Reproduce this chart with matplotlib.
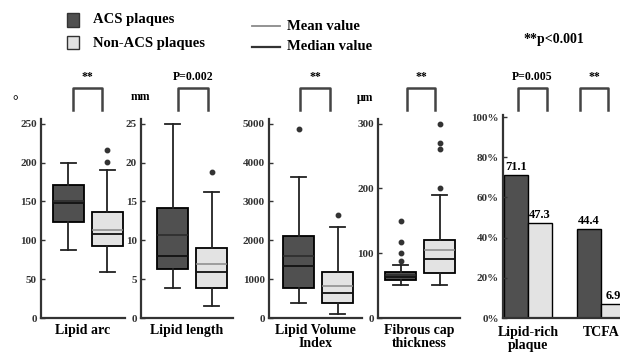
import matplotlib
matplotlib.use("Agg")
import matplotlib.pyplot as plt
from matplotlib.lines import Line2D
from matplotlib.patches import Rectangle

plt.rcParams['font.family'] = ['Liberation Serif', 'DejaVu Serif']
plt.rcParams['font.weight'] = 'bold'
plt.rcParams['axes.labelweight'] = 'bold'

W, H = 620, 357

# box plot data, each list is [ACS, Non-ACS]
arc_q1 = [124, 93]
arc_med = [148, 108]
arc_q3 = [171, 136]
arc_mean = [150, 113]
arc_lo = [87, 59]
arc_hi = [199, 191]
arc_fliers = [[], [201, 216]]

len_q1 = [6.3, 3.9]
len_med = [8.0, 5.9]
len_q3 = [14.1, 9.0]
len_mean = [10.7, 6.9]
len_lo = [3.9, 1.6]
len_hi = [24.9, 16.2]
len_fliers = [[], [18.8]]

lvi_q1 = [782, 378]
lvi_med = [1328, 655]
lvi_q3 = [2109, 1185]
lvi_mean = [1597, 824]
lvi_lo = [378, 92]
lvi_hi = [3639, 2353]
lvi_fliers = [[4857], [2647]]

fct_q1 = [59, 70]
fct_med = [63, 91]
fct_q3 = [71, 121]
fct_mean = [66, 105]
fct_lo = [51, 51]
fct_hi = [81, 190]
fct_fliers = [[88, 100, 117, 150], [200, 260, 270, 300]]

# bar data (%)
bar_cats = ['Lipid-rich\nplaque', 'TCFA']
bar_acs = [71.1, 44.4]
bar_non = [47.3, 6.9]

dark = '#505050'
light = '#e3e3e3'


def fx(px):
    return px / W


def fy(py):
    return 1 - py / H


fig = plt.figure(figsize=(6.2, 3.57), dpi=100)

panels = [
    # (q1, med, q3, mean, lo, hi, fliers, xlabel, ylim, yticks, left, right, xleft)
    (arc_q1, arc_med, arc_q3, arc_mean, arc_lo, arc_hi, arc_fliers, 'Lipid arc',
     (0, 256), range(0, 251, 50), 41, 125, 0.30),
    (len_q1, len_med, len_q3, len_mean, len_lo, len_hi, len_fliers, 'Lipid length',
     (0, 25.6), range(0, 26, 5), 141, 233, 0.19),
    (lvi_q1, lvi_med, lvi_q3, lvi_mean, lvi_lo, lvi_hi, lvi_fliers, 'Lipid Volume\nIndex',
     (0, 5120), range(0, 5001, 1000), 269, 362, 0.24),
    (fct_q1, fct_med, fct_q3, fct_mean, fct_lo, fct_hi, fct_fliers, 'Fibrous cap\nthickness',
     (0, 307), range(0, 301, 100), 378, 460, 0.42),
]

for q1, med, q3, mean, lo, hi, fl, xlab, ylim, yt, left, right, xl in panels:
    ax = fig.add_axes([fx(left), fy(318), (right - left) / W, (318 - 119) / H])
    for i in range(2):
        st = [dict(q1=q1[i], med=med[i], q3=q3[i], mean=mean[i],
                   whislo=lo[i], whishi=hi[i], fliers=fl[i])]
        ax.bxp(st, positions=[i + 1], widths=0.78, patch_artist=True,
               showmeans=True, meanline=True, manage_ticks=False,
               boxprops=dict(facecolor=dark if i == 0 else light,
                             edgecolor='black', linewidth=1.3),
               medianprops=dict(color='#111111', linewidth=1.3),
               meanprops=dict(color='#2a2a2a' if i == 0 else '#8a8a8a',
                              linestyle='-', linewidth=1.1),
               whiskerprops=dict(color='#222222', linewidth=1.3),
               capprops=dict(color='#222222', linewidth=1.3),
               flierprops=dict(marker='o', markersize=3.2, markerfacecolor='#333333',
                               markeredgecolor='#333333'))
    ax.set_xlim(xl, xl + (right - left) / 39)
    ax.set_ylim(*ylim)
    ax.set_yticks(list(yt))
    ax.set_xticks([])
    ax.set_xlabel(xlab, fontsize=10, labelpad=4, linespacing=1.0)
    for s in ['top', 'right']:
        ax.spines[s].set_visible(False)
    for s in ['left', 'bottom']:
        ax.spines[s].set_linewidth(1.6)
        ax.spines[s].set_color('#333333')
    ax.tick_params(axis='y', direction='in', length=3, width=1, labelsize=8, pad=3,
                   colors='#333333')

# bar panel
ax5 = fig.add_axes([fx(503), fy(318), (W - 503) / W, (318 - 115) / H])
xs = list(range(len(bar_cats)))
bw = 0.33
b1 = ax5.bar([x - bw / 2 for x in xs], bar_acs, width=bw, color=dark,
             edgecolor='black', linewidth=1)
b2 = ax5.bar([x + bw / 2 for x in xs], bar_non, width=bw, color=light,
             edgecolor='black', linewidth=1)
for bars, vals in [(b1, bar_acs), (b2, bar_non)]:
    for r, v in zip(bars, vals):
        ax5.text(r.get_x() + r.get_width() / 2, v + 1, f'{v}', ha='center',
                 va='bottom', fontsize=9, clip_on=False)
ax5.set_xlim(-0.34, 1.26)
ax5.set_ylim(0, 101)
ax5.set_yticks(range(0, 101, 20))
ax5.set_yticklabels([f'{v}%' for v in range(0, 101, 20)])
ax5.set_xticks(xs)
ax5.set_xticklabels(bar_cats, fontsize=10, linespacing=1.0)
ax5.tick_params(axis='x', length=0, pad=6)
for s in ['top', 'right']:
    ax5.spines[s].set_visible(False)
for s in ['left', 'bottom']:
    ax5.spines[s].set_linewidth(1.6)
    ax5.spines[s].set_color('#333333')
ax5.tick_params(axis='y', direction='in', length=3, width=1, labelsize=8, pad=3,
                colors='#333333')

# significance brackets
brackets = [(73, 102, '**'), (178, 208, 'P=0.002'), (300, 330, '**'),
            (407, 435, '**'), (518, 547, 'P=0.005'), (580, 608, '**')]
for x0, x1, lab in brackets:
    fig.add_artist(Line2D([fx(x0), fx(x0), fx(x1), fx(x1)],
                          [fy(110), fy(88), fy(88), fy(110)],
                          color='#444444', linewidth=1.8))
    fig.text(fx((x0 + x1) / 2), fy(77), lab, ha='center', va='center', fontsize=8.5)

# units
fig.text(fx(15), fy(102), '°', ha='center', va='center', fontsize=10)
fig.text(fx(140), fy(97), 'mm', ha='center', va='center', fontsize=8.5)
fig.text(fx(365), fy(98), 'μm', ha='center', va='center', fontsize=8.5)

# legend
fig.add_artist(Rectangle((fx(67), fy(27)), 12 / W, 14 / H, facecolor=dark,
                         edgecolor='#333333', linewidth=1))
fig.add_artist(Rectangle((fx(67), fy(49)), 12 / W, 13 / H, facecolor=light,
                         edgecolor='#333333', linewidth=1))
fig.text(fx(93), fy(20), 'ACS plaques', va='center', fontsize=10.5)
fig.text(fx(93), fy(43), 'Non-ACS plaques', va='center', fontsize=10.5)
fig.add_artist(Line2D([fx(252), fx(280)], [fy(26), fy(26)], color='#8a8a8a', linewidth=1.3))
fig.add_artist(Line2D([fx(252), fx(280)], [fy(47), fy(47)], color='#333333', linewidth=1.6))
fig.text(fx(287), fy(26), 'Mean value', va='center', fontsize=10.5)
fig.text(fx(287), fy(47), 'Median value', va='center', fontsize=10.5)
fig.text(fx(554), fy(39), '**p<0.001', ha='center', va='center', fontsize=10)

fig.savefig('out.png', dpi=100)
